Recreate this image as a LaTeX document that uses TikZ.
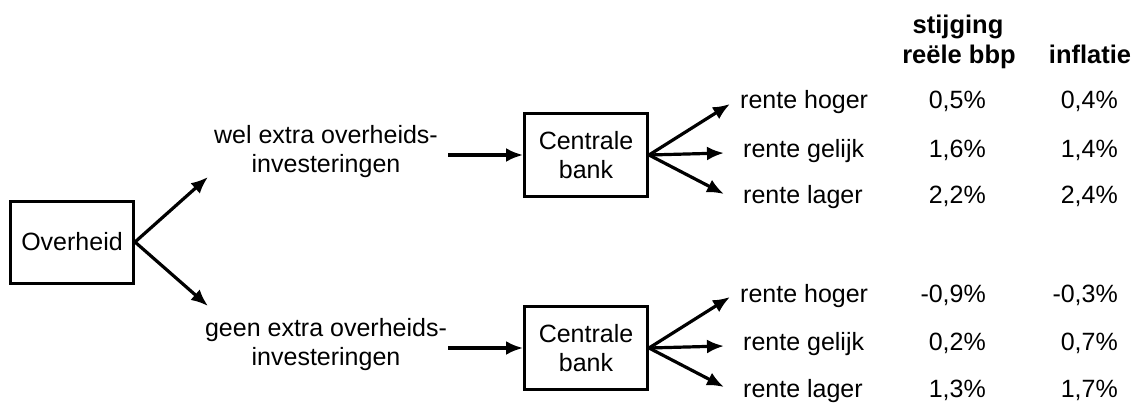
\documentclass[tikz,border=0pt]{standalone}
\usepackage{fontspec}
\setmainfont{Liberation Sans}
\usetikzlibrary{arrows.meta}
\begin{document}
\begin{tikzpicture}[x=1pt,y=-1pt,
  every node/.style={font=\fontsize{25}{29.5}\selectfont, inner sep=0pt},
  box/.style={draw, line width=3pt, minimum width=123pt, minimum height=82pt, align=center},
  lbl/.style={anchor=base},
  num/.style={anchor=base east},
  hdr/.style={anchor=base, font=\fontsize{25.5}{29}\selectfont\bfseries},
  arr/.style={line width=3.2pt, -{Latex[length=17pt,width=14pt]}}]
\useasboundingbox (0,0) rectangle (1137,402);
% boxes
\node[box] (ov) at (72,242) {Overheid};
\node[box, minimum height=83pt] (cb1) at (586,155) {Centrale\\bank};
\node[box, minimum height=83pt] (cb2) at (586,348) {Centrale\\bank};
% middle labels
\node[lbl] (wel1) at (326,143) {wel extra overheids-};
\node[lbl] (wel2) at (326,172) {investeringen};
\node[lbl] (geen1) at (326,336) {geen extra overheids-};
\node[lbl] (geen2) at (326,365) {investeringen};
\coordinate (w) at (448,155);
\coordinate (g) at (448,348);
\coordinate (ta) at (208,177);
\coordinate (tb) at (208,306);
\draw[arr] (ov.east) -- (ta);
\draw[arr] (ov.east) -- (tb);
\draw[arr] (w) -- (cb1.west);
\draw[arr] (g) -- (cb2.west);
% rente labels
\node[lbl, anchor=base west] (h1) at (740,108) {rente hoger};
\node[lbl, anchor=base west] (e1) at (743,157) {rente gelijk};
\node[lbl, anchor=base west] (l1) at (743,203) {rente lager};
\node[lbl, anchor=base west] (h2) at (740,302) {rente hoger};
\node[lbl, anchor=base west] (e2) at (743,350) {rente gelijk};
\node[lbl, anchor=base west] (l2) at (743,397) {rente lager};
\coordinate (a1) at (730,104);
\coordinate (b1) at (724,153);
\coordinate (c1) at (724,194);
\coordinate (a2) at (730,297);
\coordinate (b2) at (724,346);
\coordinate (c2) at (724,387);
\draw[arr] (cb1.east) -- (a1);
\draw[arr] (cb1.east) -- (b1);
\draw[arr] (cb1.east) -- (c1);
\draw[arr] (cb2.east) -- (a2);
\draw[arr] (cb2.east) -- (b2);
\draw[arr] (cb2.east) -- (c2);
% headers
\node[hdr] (s1) at (958,33) {stijging};
\node[hdr] (s2) at (959,63) {reële bbp};
\node[hdr] (inf) at (1090,63) {inflatie};
% values
\node[num] at (986,108) {0,5\%};
\node[num] at (986,157) {1,6\%};
\node[num] at (986,203) {2,2\%};
\node[num] at (986,302) {-0,9\%};
\node[num] at (986,350) {0,2\%};
\node[num] at (986,397) {1,3\%};
\node[num] at (1118,108) {0,4\%};
\node[num] at (1118,157) {1,4\%};
\node[num] at (1118,203) {2,4\%};
\node[num] at (1118,302) {-0,3\%};
\node[num] at (1118,350) {0,7\%};
\node[num] at (1118,397) {1,7\%};
\end{tikzpicture}
\end{document}
